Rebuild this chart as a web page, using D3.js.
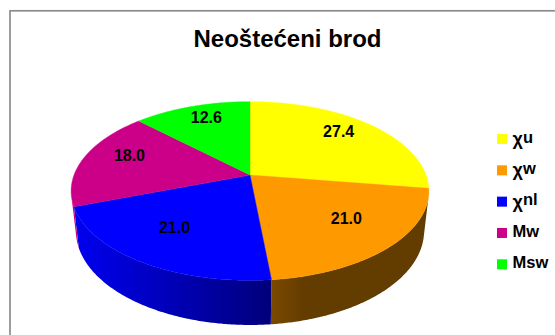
<!DOCTYPE html>
<html>
<head>
<meta charset="utf-8">
<script src="https://cdn.jsdelivr.net/npm/d3@7"></script>
<style>
  body { margin: 0; background: #fff; }
  svg { display: block; }
</style>
</head>
<body>
<svg id="chart" width="555" height="335"></svg>
<script>
// ---- data ----
const chartTitle = "Neoštećeni brod";
const categories = ["χu", "χw", "χnl", "Mw", "Msw"];
const values = [27.4, 21.0, 21.0, 18.0, 12.6];
const colors = ["#FFFF00", "#FF9900", "#0000FF", "#CC0088", "#00FF00"];

// ---- layout ----
const fontFamily = "'Liberation Sans', Arial, Helvetica, sans-serif";
const svg = d3.select("#chart");
const defs = svg.append("defs");

// chart-area frame (runs off the right and bottom edges)
svg.append("rect")
  .attr("x", 10).attr("y", 10.8)
  .attr("width", 700).attr("height", 500)
  .attr("fill", "none")
  .attr("stroke", "#8c8c8c")
  .attr("stroke-width", 1.7);

svg.append("text")
  .attr("x", 287.5).attr("y", 47)
  .attr("text-anchor", "middle")
  .attr("font-family", fontFamily)
  .attr("font-weight", "bold")
  .attr("font-size", 24)
  .attr("fill", "#000")
  .text(chartTitle);

// ---- 3D perspective camera for the pie (unit radius disc) ----
const cx = 250, cy = 175;                 // screen position of the pie centre
const tilt = 29.44 * Math.PI / 180;       // elevation of the viewer
const camDist = 4.866;                    // camera distance, in radii
const focal = 856.4;                      // focal length, px
const thickness = 0.265;                  // disc height, in radii

function project(theta, r, y) {
  const X = r * Math.sin(theta), Z = r * Math.cos(theta);
  const u = y * Math.cos(tilt) + Z * Math.sin(tilt);
  const w = camDist + Z * Math.cos(tilt) - y * Math.sin(tilt);
  return [cx + focal * X / w, cy - focal * u / w];
}

// side wall shading: ambient + diffuse light coming from the front-left
const lightAz = 75 * Math.PI / 180;
function shade(color, theta) {
  const dot = -Math.sin(theta) * Math.sin(lightAz) - Math.cos(theta) * Math.cos(lightAz);
  const k = 0.39 + 0.55 * Math.max(0, dot);
  const c = d3.rgb(color);
  return d3.rgb(c.r * k, c.g * k, c.b * k).formatHex();
}

const pie = d3.pie().sort(null).value(d => d).startAngle(0).endAngle(2 * Math.PI);
const arcs = pie(values);

// visible part of the outer wall: where the wall faces the camera
const cosLimit = -1 / (camDist * Math.cos(tilt));
const visStart = Math.acos(cosLimit);             // right silhouette
const visEnd = 2 * Math.PI - visStart;            // left silhouette

const step = Math.PI / 360;
function sampleAngles(a0, a1) {
  const n = Math.max(2, Math.ceil((a1 - a0) / step));
  return d3.range(n + 1).map(j => a0 + (a1 - a0) * j / n);
}

// outer wall of each slice, shaded with a horizontal gradient
const sideLayer = svg.append("g");
arcs.forEach((a, i) => {
  const t0 = Math.max(a.startAngle, visStart);
  const t1 = Math.min(a.endAngle, visEnd);
  if (t1 <= t0) return;
  const angles = sampleAngles(t0, t1);
  const topPts = angles.map(t => project(t, 1, 0));
  const botPts = angles.map(t => project(t, 1, -thickness)).reverse();

  const xs = topPts.map(p => p[0]);
  const x0 = d3.min(xs), x1 = d3.max(xs);
  const gid = "side-" + i;
  const grad = defs.append("linearGradient")
    .attr("id", gid)
    .attr("gradientUnits", "userSpaceOnUse")
    .attr("x1", x0).attr("y1", 0).attr("x2", x1).attr("y2", 0);
  const stops = angles.filter((_, j) => j % 4 === 0 || j === angles.length - 1)
    .map(t => ({ off: (project(t, 1, 0)[0] - x0) / (x1 - x0), c: shade(colors[i], t) }))
    .sort((p, q) => p.off - q.off);
  grad.selectAll("stop").data(stops).join("stop")
    .attr("offset", d => d.off)
    .attr("stop-color", d => d.c);

  sideLayer.append("path")
    .attr("d", d3.line()(topPts.concat(botPts)) + "Z")
    .attr("fill", `url(#${gid})`);
});

// top faces
const topLayer = svg.append("g");
arcs.forEach((a, i) => {
  const pts = [project(0, 0, 0)].concat(
    sampleAngles(a.startAngle, a.endAngle).map(t => project(t, 1, 0)));
  topLayer.append("path")
    .attr("d", d3.line()(pts) + "Z")
    .attr("fill", colors[i])
    .attr("stroke", colors[i])
    .attr("stroke-width", 0.4)
    .attr("stroke-linejoin", "round");
});

// value labels on the top face
const labelRadius = 0.72, labelLift = 6.7, labelSize = 16;
arcs.forEach(a => {
  const mid = (a.startAngle + a.endAngle) / 2;
  const [lx, ly] = project(mid, labelRadius, 0);
  svg.append("text")
    .attr("x", lx)
    .attr("y", ly - labelLift + labelSize * 0.358)
    .attr("text-anchor", "middle")
    .attr("font-family", fontFamily)
    .attr("font-weight", "bold")
    .attr("font-size", labelSize)
    .attr("fill", "#000")
    .text(a.value.toFixed(1));
});

// legend
const legendY = d3.scalePoint().domain(categories).range([139, 264.3]);
const legend = svg.append("g");
categories.forEach((name, i) => {
  const y = legendY(name);
  legend.append("rect")
    .attr("x", 497).attr("y", y - 5)
    .attr("width", 10).attr("height", 10)
    .attr("fill", colors[i]);
  const t = legend.append("text")
    .attr("x", 512.5).attr("y", y + 3.6)
    .attr("font-family", fontFamily)
    .attr("font-weight", "bold")
    .attr("font-size", 16.5)
    .attr("fill", "#000");
  if (name.startsWith("χ")) {
    t.append("tspan").attr("font-size", 18).attr("dy", 2.5).text("χ");
    t.append("tspan").attr("dy", -2.5).text(name.slice(1));
  } else {
    t.text(name);
  }
});
</script>
</body>
</html>
